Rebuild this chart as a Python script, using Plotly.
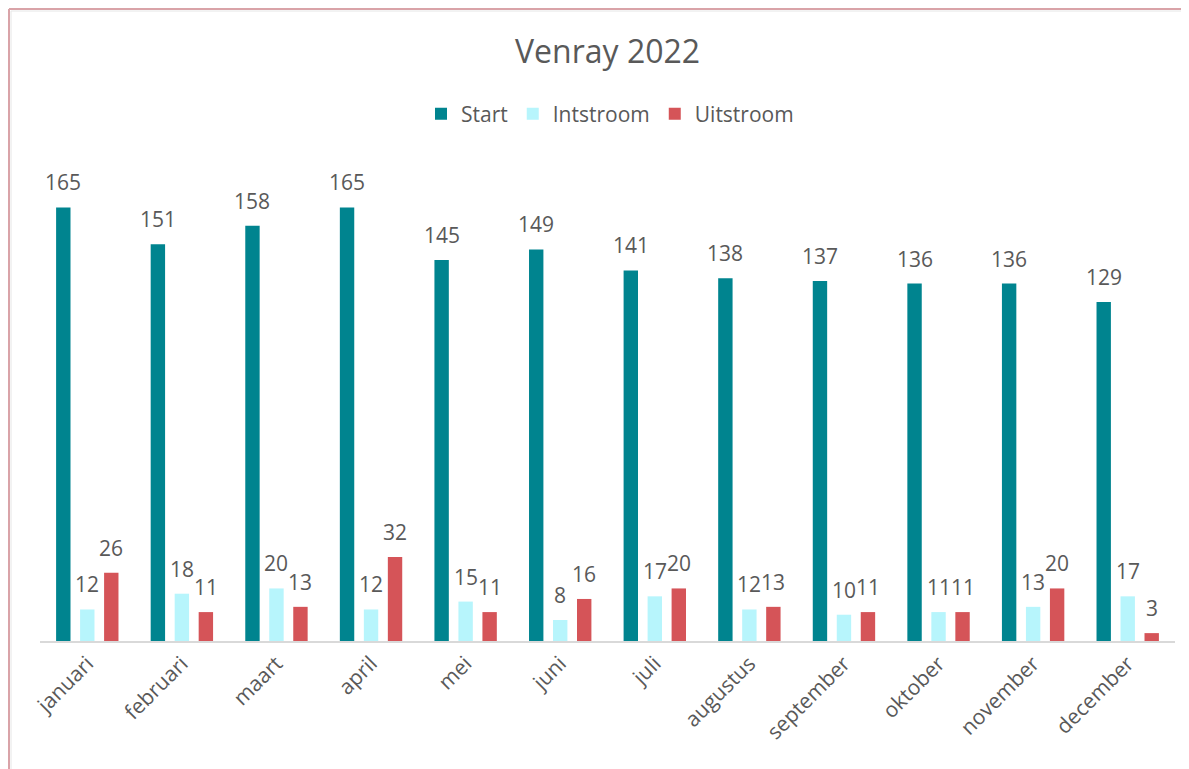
import plotly.graph_objects as go

months = ["januari", "februari", "maart", "april", "mei", "juni", "juli",
          "augustus", "september", "oktober", "november", "december"]
start = [165, 151, 158, 165, 145, 149, 141, 138, 137, 136, 136, 129]
instroom = [12, 18, 20, 12, 15, 8, 17, 12, 10, 11, 13, 17]
uitstroom = [26, 11, 13, 32, 11, 16, 20, 13, 11, 11, 20, 3]

series = [
    ("Start", start, "#00848F", -24),
    ("Intstroom", instroom, "#B7F5FC", 0),
    ("Uitstroom", uitstroom, "#D55458", 24),
]

txt = "#595959"
font = "Open Sans, Segoe UI, sans-serif"

W, H = 1189, 769
OFF = 8  # page body margin offset
# target on-screen plot area
PX0, PX1, PY0, PY1 = 40, 1175, 168, 641
L = PX0 - OFF
T = PY0 - OFF
pw = PX1 - PX0
ph = PY1 - PY0
R = W - L - pw
B = H - T - ph


def px(xs):
    return (xs - PX0) / pw


def py(ys):
    return (PY1 - ys) / ph


fig = go.Figure()
annotations = []
for name, vals, color, shift in series:
    fig.add_trace(go.Bar(name=name, x=months, y=vals, marker_color=color,
                         marker_line_width=0))
    for m, v in zip(months, vals):
        annotations.append(dict(x=m, y=v, xref="x", yref="y", text=str(v),
                                showarrow=False, xshift=shift, yshift=25,
                                yanchor="middle",
                                font=dict(size=21, color=txt, family=font)))

annotations.append(dict(x=px(607), y=py(50), xref="paper", yref="paper",
                        text="Venray 2022", showarrow=False, yanchor="middle",
                        font=dict(size=32, color=txt, family=font)))

pink = "#D9A3A8"
shapes = [
    dict(type="line", xref="paper", yref="paper", x0=px(9), x1=px(W + 20),
         y0=py(9), y1=py(9), line=dict(color=pink, width=2)),
    dict(type="line", xref="paper", yref="paper", x0=px(11), x1=px(W + 20),
         y0=py(11), y1=py(11), line=dict(color="#E6E6E6", width=1)),
    dict(type="line", xref="paper", yref="paper", x0=px(9), x1=px(9),
         y0=py(9), y1=py(H + 20), line=dict(color=pink, width=2)),
    dict(type="line", xref="paper", yref="paper", x0=px(11), x1=px(11),
         y0=py(11), y1=py(H + 20), line=dict(color="#E6E6E6", width=1)),
]

fig.update_layout(
    width=W, height=H,
    margin=dict(l=L, r=R, t=T, b=B, pad=0),
    paper_bgcolor="white", plot_bgcolor="white",
    barmode="group", bargap=0.239, bargroupgap=0.4,
    showlegend=True,
    legend=dict(orientation="h", x=px(610), xanchor="center", y=py(114), yanchor="middle",
                font=dict(size=21, color=txt, family=font), itemwidth=30,
                traceorder="normal"),
    annotations=annotations,
    shapes=shapes,
    xaxis=dict(showline=True, linecolor="#D9D9D9", linewidth=2, ticks="",
               tickangle=-45, tickfont=dict(size=21, color=txt, family=font),
               showgrid=False, fixedrange=True),
    yaxis=dict(range=[0, 180], visible=False, showgrid=False, zeroline=False),
)

fig.write_html("out.html")
